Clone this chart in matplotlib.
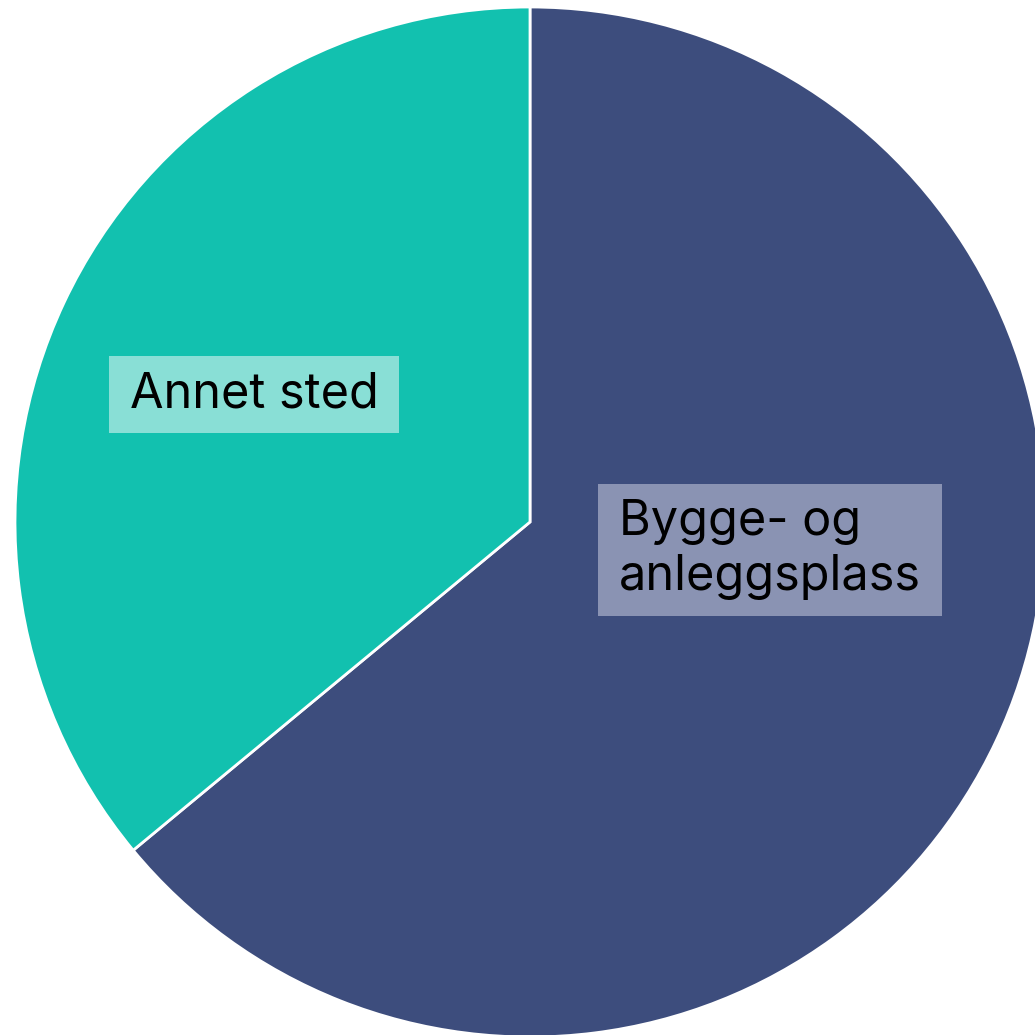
import matplotlib
matplotlib.use("Agg")
from matplotlib import pyplot as plt
from matplotlib.path import Path

# andeler lest av bildet
kategorier = ["Bygge- og\nanleggsplass", "Annet sted"]
andeler = [64, 36]
farger = ["#3D4D7D", "#12C1AF"]
boksfarger = ["#8A93B3", "#89DFD6"]

plt.rcParams["font.family"] = ["Inter", "DejaVu Sans"]


def boks(x0, y0, w, h, mutation_size):
    # rektangel med ulik luft sideveis og i hoyden
    px = 0.43 * mutation_size
    py = 0.32 * mutation_size
    return Path([(x0 - px, y0 - py), (x0 + w + px, y0 - py),
                 (x0 + w + px, y0 + h + py), (x0 - px, y0 + h + py),
                 (x0 - px, y0 - py)], closed=True)


fig = plt.figure(figsize=(10.35, 10.35), dpi=100)
ax = fig.add_axes([0, 0, 1, 1])

wedges, _ = ax.pie(andeler, colors=farger, startangle=90, counterclock=False,
                   wedgeprops=dict(edgecolor="white", linewidth=2))

ax.set_aspect("auto")
ax.set_xlim(-530 / 515, 505 / 515)
ax.set_ylim(-513 / 515, 522 / 515)
ax.axis("off")

# etiketter
ax.text(0.466, -0.054, kategorier[0], ha="center", va="center",
        multialignment="left", fontsize=35, linespacing=1.25, color="black",
        bbox=dict(boxstyle=boks, facecolor=boksfarger[0], edgecolor="none"))
ax.text(-0.536, 0.247, kategorier[1], ha="center", va="center",
        fontsize=35, color="black",
        bbox=dict(boxstyle=boks, facecolor=boksfarger[1], edgecolor="none"))

fig.savefig("out.png", dpi=100)
